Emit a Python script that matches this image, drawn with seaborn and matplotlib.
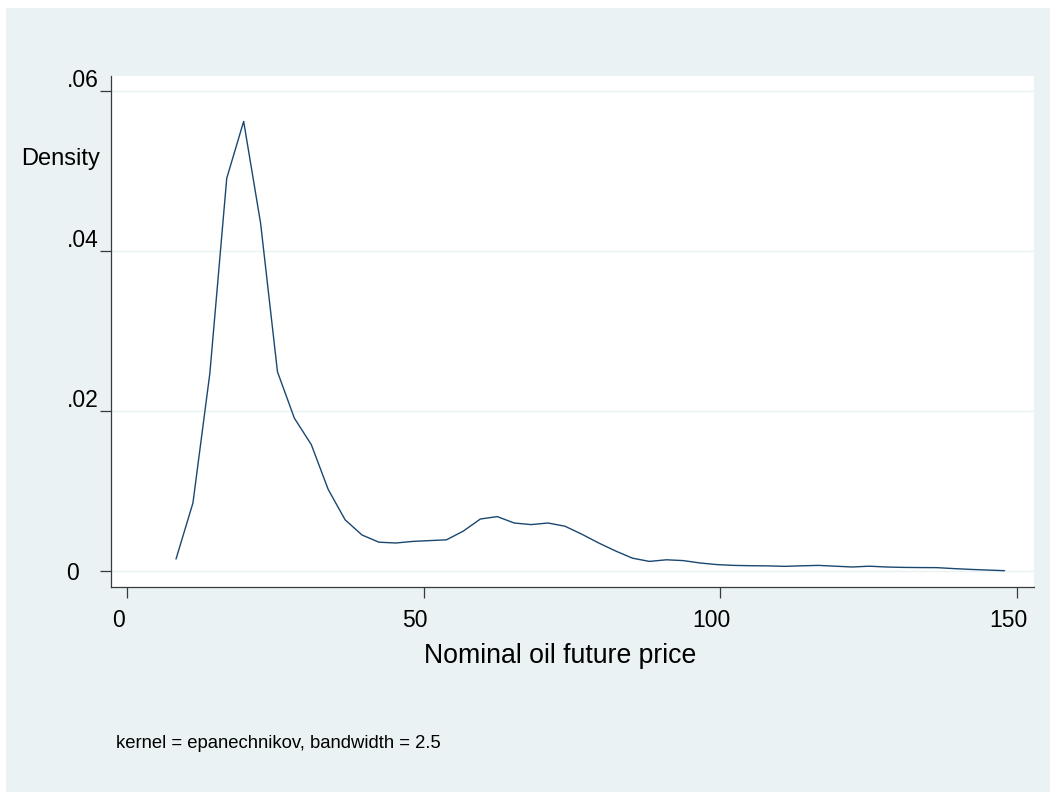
import numpy as np
import pandas as pd
import matplotlib
matplotlib.use("Agg")
import matplotlib.pyplot as plt
import matplotlib.transforms as mtransforms
from matplotlib.patches import Rectangle
import seaborn as sns

# Kernel density estimate of the nominal oil future price (50-point grid)
price_grid = np.linspace(8.26, 147.9, 50)
density = [
    0.0015, 0.0085, 0.0247, 0.0491, 0.0562, 0.0435, 0.0249, 0.0191, 0.0158, 0.0102,
    0.0064, 0.0045, 0.0036, 0.0035, 0.0037, 0.0038, 0.0039, 0.0050, 0.0065, 0.0068,
    0.0060, 0.0058, 0.0060, 0.0056, 0.0046, 0.0035, 0.0025, 0.0016, 0.0012, 0.0014,
    0.0013, 0.0010, 0.0008, 0.0007, 0.00066, 0.00064, 0.00058, 0.00065, 0.0007, 0.0006,
    0.0005, 0.0006, 0.0005, 0.00045, 0.00043, 0.00042, 0.0003, 0.0002, 0.00012, 0.00004,
]
x_ticks = [0, 50, 100, 150]
x_ticklabels = ["0", "50", "100", "150"]
y_ticks = [0, 0.02, 0.04, 0.06]
y_ticklabels = ["0", ".02", ".04", ".06"]
x_title = "Nominal oil future price"
y_title = "Density"
note = "kernel = epanechnikov, bandwidth = 2.5"

df = pd.DataFrame({"price": price_grid, "density": density})

sns.set_style("white")
plt.rcParams["font.family"] = ["Liberation Sans", "DejaVu Sans"]
plt.rcParams["text.color"] = "black"

W, H = 1050, 792
fig = plt.figure(figsize=(W / 100, H / 100), dpi=100, facecolor="white")
region = "#EAF2F3"
fig.patches.append(Rectangle((6 / W, 0), 1 - 6 / W, (H - 8) / H,
                             transform=fig.transFigure, facecolor=region,
                             edgecolor="none", zorder=-10))

left, right, top, bottom = 111, 1034, 76, 587
ax = fig.add_axes([left / W, 1 - bottom / H, (right - left) / W, (bottom - top) / H])
ax.set_facecolor("white")

sns.lineplot(data=df, x="price", y="density", ax=ax, color="#1A476F",
             linewidth=1.0, estimator=None, sort=False)

ax.set_xlim(-2.70, 152.87)
ax.set_ylim(-0.002, 0.061875)

ax.set_xticks(x_ticks)
ax.set_xticklabels(x_ticklabels, fontsize=16.5)
ax.set_yticks(y_ticks)
ax.set_yticklabels(y_ticklabels, fontsize=16.5)

ax.grid(axis="y", color="#EAF2F3", linewidth=1.0)
ax.grid(axis="x", visible=False)
ax.set_axisbelow(True)

for side in ("top", "right"):
    ax.spines[side].set_visible(False)
for side in ("left", "bottom"):
    ax.spines[side].set_color("#3a3a3a")
    ax.spines[side].set_linewidth(0.9)

ax.tick_params(axis="both", which="major", direction="out", length=8,
               width=0.9, color="#3a3a3a", labelcolor="black",
               bottom=True, left=True)
ax.tick_params(axis="y", pad=1)
ax.tick_params(axis="x", pad=8)

# Stata-like label placement: nonzero y labels sit above their ticks,
# the zero label sits further left, x labels sit slightly left of their ticks
for lab, val in zip(ax.get_yticklabels(), y_ticks):
    if val != 0:
        shift = mtransforms.ScaledTranslation(0, 0.13, fig.dpi_scale_trans)
    else:
        shift = mtransforms.ScaledTranslation(-0.20, 0, fig.dpi_scale_trans)
    lab.set_transform(lab.get_transform() + shift)
for lab in ax.get_xticklabels():
    lab.set_transform(lab.get_transform() +
                      mtransforms.ScaledTranslation(-0.09, 0, fig.dpi_scale_trans))

ax.set_xlabel("")
ax.set_ylabel("")
fig.text(560 / W, 1 - 656 / H, x_title, fontsize=19.2, ha="center", va="center",
         color="black")
fig.text(100 / W, 1 - 159 / H, y_title, fontsize=17, ha="right", va="center",
         color="black")
fig.text(116 / W, 1 - 744 / H, note, fontsize=13.3, ha="left", va="center",
         color="black")

fig.savefig("out.png", dpi=100, facecolor=fig.get_facecolor())
